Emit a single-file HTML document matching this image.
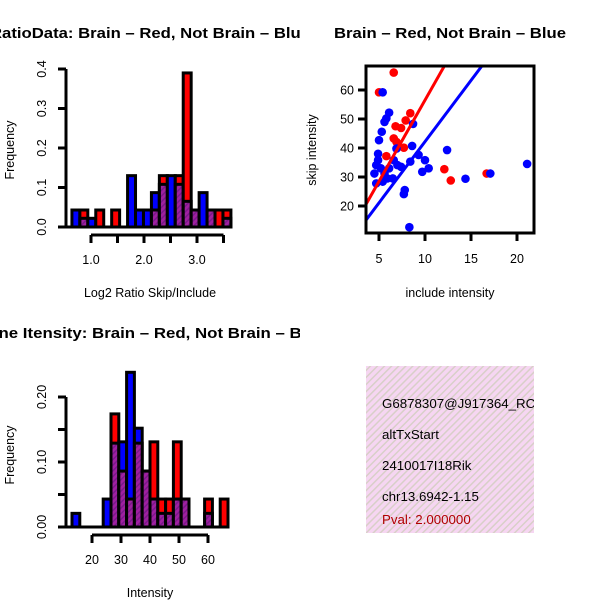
<!DOCTYPE html>
<html><head><meta charset="utf-8"><style>
html,body{margin:0;padding:0;background:#fff;}
svg{display:block;font-family:"Liberation Sans",Helvetica,sans-serif;}
</style></head><body>
<svg id="c" width="600" height="600" viewBox="0 0 600 600" xmlns="http://www.w3.org/2000/svg">
<defs>
<pattern id="hatch" patternUnits="userSpaceOnUse" width="4" height="4" patternTransform="rotate(45)">
<rect width="4" height="4" fill="#a020a0"/><rect width="1.5" height="4" fill="#7a1a8a"/></pattern>
<pattern id="pink" patternUnits="userSpaceOnUse" width="5" height="5" patternTransform="rotate(45)">
<rect width="5" height="5" fill="#f6d6f2"/><rect width="1.5" height="5" fill="#d8cfc8"/></pattern>
<clipPath id="clipL"><rect x="0" y="0" width="300" height="600"/></clipPath>
<clipPath id="clipS"><rect x="366" y="66" width="168" height="167"/></clipPath>
</defs>
<g id="g1"></g>
<g id="g2"></g>
<g id="g3"></g>
<g>
<rect x="366" y="366" width="168" height="167" fill="url(#pink)"/>
<svg x="366" y="366" width="168" height="167" overflow="hidden">
<text x="16" y="42" font-size="13.3" fill="#000">G6878307@J917364_RC</text>
<text x="16" y="73" font-size="13.3" fill="#000">altTxStart</text>
<text x="16" y="104" font-size="13.3" fill="#000">2410017I18Rik</text>
<text x="16" y="135" font-size="13.3" fill="#000">chr13.6942-1.15</text>
<text x="16" y="158" font-size="13.3" fill="#b00000">Pval: 2.000000</text>
</svg>
</g>
</svg>
<script>
// ---- Ratio histogram data ----
const ratioBinStart = 0.64;
const ratioBinWidth = 0.15;
const ratioBlue = [0.043,0.022,0.022,0,0,0,0,0.13,0.043,0.043,0.087,0.108,0.13,0.108,0.065,0.043,0.087,0.043,0,0.022];
const ratioRed  = [0,0.043,0,0.043,0,0.043,0,0,0,0,0.043,0.13,0,0.13,0.39,0.043,0,0.043,0.043,0.043];
const ratioYTicks = [0,0.1,0.2,0.3,0.4];
const ratioYLabels = ["0.0","0.1","0.2","0.3","0.4"];
const ratioXTicks = [1.0,1.5,2.0,2.5,3.0,3.5];
const ratioXLabels = ["1.0","","2.0","","3.0",""];
// ---- Intensity histogram data ----
const intBinStart = 13.1;
const intBinWidth = 2.69;
const intBlue = [0.021,0,0,0,0.043,0.129,0.131,0.238,0.152,0.086,0.043,0.021,0.021,0.043,0.043,0,0,0.021,0,0];
const intRed  = [0,0,0,0,0,0.174,0.086,0.043,0.129,0.086,0.131,0.043,0.043,0.131,0.043,0,0,0.043,0,0.043];
const intYTicks = [0,0.05,0.10,0.15,0.20];
const intYLabels = ["0.00","","0.10","","0.20"];
const intXTicks = [20,30,40,50,60];
const intXLabels = ["20","30","40","50","60"];
// ---- Scatter data ----
const redInclude = [6.6,5.0,8.4,7.9,7.4,6.8,6.6,6.9,7.7,5.8,12.1,12.8,16.7];
const redSkip    = [66,59.2,52,49.5,46.9,47.5,43.3,42.1,40.1,37.2,32.7,28.8,31.2];
const blueInclude = [5.4,6.1,5.8,5.6,5.3,5.0,8.7,6.9,8.6,12.4,4.9,4.9,4.7,5.2,4.5,5.6,6.1,6.5,4.7,5.4,5.9,7.0,7.4,6.6,8.4,9.3,10.0,10.4,9.7,14.4,17.1,21.1,7.8,7.7,8.3];
const blueSkip    = [59.2,52.2,50.2,49,45.6,42.7,48.3,39.8,40.7,39.3,38,35.8,34.1,33,31.2,31.2,33,29.5,27.8,28.4,29.5,34.1,33.5,35.8,35.3,37.6,35.8,33,31.8,29.4,31.2,34.5,25.5,24.1,12.7];
const redFit = [0.5,5.6];   // intercept, slope
const blueFit = [0.0,4.22];
const scatterXTicks = [5,10,15,20];
const scatterYTicks = [20,30,40,50,60];

const NS="http://www.w3.org/2000/svg";
function mk(parent,tag,attrs,text){const e=document.createElementNS(NS,tag);for(const k in attrs)e.setAttribute(k,attrs[k]);if(text!==undefined)e.textContent=text;parent.appendChild(e);return e;}

function histogram(g,o){
  const sx=v=>o.x0+(v-o.d0)*o.kx, sy=v=>o.base-v*o.ky;
  const n=o.blue.length;
  for(let i=0;i<n;i++){
    const b=o.blue[i], r=o.red[i];
    const xa=sx(o.start+i*o.width), xb=sx(o.start+(i+1)*o.width);
    const mx=Math.max(b,r), mn=Math.min(b,r);
    if(mx>0){
      const r1=mk(g,'rect',{x:xa,y:sy(mx),width:xb-xa,height:sy(0)-sy(mx),fill:b>=r?'#0000ff':'#ff0000',stroke:'#000','stroke-width':3});
      
      
    }
    if(mn>0){
      const r2=mk(g,'rect',{x:xa,y:sy(mn),width:xb-xa,height:sy(0)-sy(mn),fill:'url(#hatch)',stroke:'#000','stroke-width':3});
      
      
    }
  }
  const base=mk(g,'line',{x1:o.axX,x2:sx(o.start+n*o.width)+1,y1:o.base,y2:o.base,stroke:'#000','stroke-width':3});
  
  
  const ya=mk(g,'line',{x1:o.axX,x2:o.axX,y1:sy(o.yt[o.yt.length-1]),y2:o.base,stroke:'#000','stroke-width':3});
  
  
  o.yt.forEach((t,i)=>{
    mk(g,'line',{x1:o.axX-8,x2:o.axX,y1:sy(t),y2:sy(t),stroke:'#000','stroke-width':3});
    if(o.yl[i]){const tx=mk(g,'text',{x:0,y:0,'font-size':12.5,'text-anchor':'middle',transform:`translate(${o.axX-20},${sy(t)}) rotate(-90)`},o.yl[i]);
      
      }
  });
  const xa2=mk(g,'line',{x1:sx(o.xt[0]),x2:sx(o.xt[o.xt.length-1]),y1:o.axY,y2:o.axY,stroke:'#000','stroke-width':3});
  
  
  o.xt.forEach((t,i)=>{
    mk(g,'line',{x1:sx(t),x2:sx(t),y1:o.axY,y2:o.axY+8,stroke:'#000','stroke-width':3});
    if(o.xl[i]){const tx=mk(g,'text',{x:sx(t),y:o.axY+29,'font-size':12.5,'text-anchor':'middle'},o.xl[i]);
      
      }
  });
}

const g1=document.getElementById('g1');
histogram(g1,{x0:91,d0:1.0,kx:53,base:227,ky:395,start:ratioBinStart,width:ratioBinWidth,blue:ratioBlue,red:ratioRed,
  yt:ratioYTicks,yl:ratioYLabels,xt:ratioXTicks,xl:ratioXLabels,axX:66,axY:235});
const g3=document.getElementById('g3');
histogram(g3,{x0:92,d0:20,kx:2.9,base:527,ky:650,start:intBinStart,width:intBinWidth,blue:intBlue,red:intRed,
  yt:intYTicks,yl:intYLabels,xt:intXTicks,xl:intXLabels,axX:66,axY:535});

// Titles and axis labels
const labels=[
 [g1,'text',{x:-10,y:38,'font-size':15,'font-weight':'bold','clip-path':'url(#clipL)',textLength:320,lengthAdjust:'spacingAndGlyphs'},'RatioData: Brain – Red, Not Brain – Blue','ratio-title'],
 [g1,'text',{x:150,y:297,'font-size':12.5,'text-anchor':'middle'},'Log2 Ratio Skip/Include','ratio-x-title'],
 [g1,'text',{x:0,y:0,'font-size':12.5,'text-anchor':'middle',transform:'translate(14,150) rotate(-90)'},'Frequency','ratio-y-title'],
 [g3,'text',{x:-24,y:338,'font-size':15,'font-weight':'bold','clip-path':'url(#clipL)',textLength:350,lengthAdjust:'spacingAndGlyphs'},'Gene Itensity: Brain – Red, Not Brain – Blue','intensity-title'],
 [g3,'text',{x:150,y:597,'font-size':12.5,'text-anchor':'middle'},'Intensity','intensity-x-title'],
 [g3,'text',{x:0,y:0,'font-size':12.5,'text-anchor':'middle',transform:'translate(14,455) rotate(-90)'},'Frequency','intensity-y-title']
];
labels.forEach(l=>{const e=mk(l[0],l[1],l[2],l[3]);
  
  });

// Scatter
const g2=document.getElementById('g2');
const X0=366,X1=534,Y0=66,Y1=233;
const sxs=v=>379+(v-5)*9.2, sys=v=>206-(v-20)*2.9;
const dots=mk(g2,'g',{'clip-path':'url(#clipS)'});
function fitLine(f,col,name){
  const xa=3.6,xb=22;
  const l=mk(dots,'line',{x1:sxs(xa),y1:sys(f[0]+f[1]*xa),x2:sxs(xb),y2:sys(f[0]+f[1]*xb),stroke:col,'stroke-width':3});
  
  
}
redInclude.forEach((v,i)=>{const c=mk(dots,'circle',{cx:sxs(v),cy:sys(redSkip[i]),r:4.3,fill:'#ff0000'});
  
  });
blueInclude.forEach((v,i)=>{const c=mk(dots,'circle',{cx:sxs(v),cy:sys(blueSkip[i]),r:4.3,fill:'#0000ff'});
  
  });
fitLine(redFit,'#ff0000','fit-line-brain');
fitLine(blueFit,'#0000ff','fit-line-not-brain');
const box=mk(g2,'rect',{x:X0,y:Y0,width:X1-X0,height:Y1-Y0,fill:'none',stroke:'#000','stroke-width':3});


scatterXTicks.forEach(t=>{mk(g2,'line',{x1:sxs(t),x2:sxs(t),y1:Y1,y2:Y1+8,stroke:'#000','stroke-width':3});
  const e=mk(g2,'text',{x:sxs(t),y:Y1+30,'font-size':12.5,'text-anchor':'middle'},String(t));
  
  });
scatterYTicks.forEach(t=>{mk(g2,'line',{x1:X0-8,x2:X0,y1:sys(t),y2:sys(t),stroke:'#000','stroke-width':3});
  const e=mk(g2,'text',{x:X0-12,y:sys(t)+4.5,'font-size':12.5,'text-anchor':'end'},String(t));
  
  });
[[{x:450,y:38,'font-size':15,'font-weight':'bold','text-anchor':'middle',textLength:232,lengthAdjust:'spacingAndGlyphs'},'Brain – Red, Not Brain – Blue','scatter-title'],
 [{x:450,y:297,'font-size':12.5,'text-anchor':'middle'},'include intensity','scatter-x-title'],
 [{x:0,y:0,'font-size':12.5,'text-anchor':'middle',transform:'translate(316,150) rotate(-90)'},'skip intensity','scatter-y-title']
].forEach(l=>{const e=mk(g2,'text',l[0],l[1]);
  
  });
</script>
</body></html>
